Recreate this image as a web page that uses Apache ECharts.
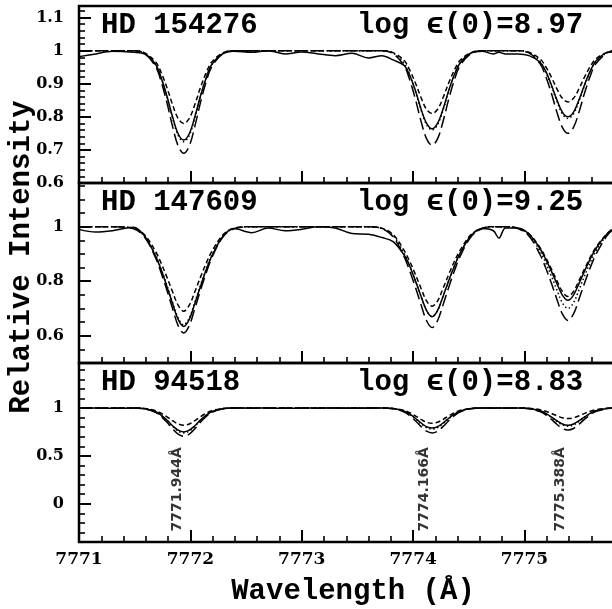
<!DOCTYPE html>
<html>
<head>
<meta charset="utf-8">
<script src="https://cdn.jsdelivr.net/npm/echarts@6/dist/echarts.min.js"></script>
<style>
  html, body { margin: 0; padding: 0; background: #fff; }
  #chart { width: 612px; height: 609px; }
</style>
</head>
<body>
<div id="chart"></div>
<script>
// wavelength grid (Angstrom) shared by every curve
const WAVE = [7771.0, 7771.15, 7771.3,
  7771.49, 7771.59, 7771.69, 7771.74, 7771.79, 7771.84, 7771.89, 7771.94, 7771.99, 7772.04, 7772.09, 7772.14, 7772.19, 7772.29, 7772.39,
  7772.55, 7772.7, 7772.85, 7773.0, 7773.15, 7773.3, 7773.45, 7773.6,
  7773.72, 7773.82, 7773.92, 7773.97, 7774.02, 7774.07, 7774.12, 7774.17, 7774.22, 7774.27, 7774.32, 7774.37, 7774.42, 7774.52, 7774.62,
  7774.72, 7774.77, 7774.83,
  7774.94, 7775.04, 7775.14, 7775.19, 7775.24, 7775.29, 7775.34, 7775.39, 7775.44, 7775.49, 7775.54, 7775.59, 7775.64, 7775.74, 7775.8];

// HD 154276
const HD154276_OBS = [0.982, 0.99, 0.998,
  0.995, 0.99, 0.957, 0.916, 0.862, 0.80, 0.749, 0.73, 0.749, 0.80, 0.862, 0.916, 0.957, 0.99, 0.998,
  0.995, 1.0, 0.99, 0.996, 0.99, 0.985, 0.992, 0.978,
  0.985, 0.972, 0.955, 0.925, 0.88, 0.825, 0.781, 0.764, 0.781, 0.825, 0.88, 0.927, 0.962, 0.993, 0.998,
  0.99, 0.995, 0.99,
  0.99, 0.985, 0.965, 0.938, 0.898, 0.852, 0.814, 0.80, 0.814, 0.852, 0.898, 0.938, 0.968, 0.994, 0.996];
const HD154276_SHORT = [1, 1, 1,
  1.0, 0.993, 0.965, 0.932, 0.888, 0.837, 0.795, 0.78, 0.795, 0.837, 0.888, 0.932, 0.965, 0.993, 1.0,
  1, 1, 1, 1, 1, 1, 1, 1,
  1.0, 0.994, 0.970, 0.941, 0.903, 0.859, 0.823, 0.81, 0.823, 0.859, 0.903, 0.941, 0.970, 0.994, 1.0,
  1, 1, 1,
  1.0, 0.995, 0.975, 0.952, 0.921, 0.885, 0.856, 0.845, 0.856, 0.885, 0.921, 0.952, 0.975, 0.995, 1.0];
const HD154276_DOT = [1, 1, 1,
  1.0, 0.992, 0.956, 0.915, 0.86, 0.797, 0.744, 0.725, 0.744, 0.797, 0.86, 0.915, 0.956, 0.992, 1.0,
  1, 1, 1, 1, 1, 1, 1, 1,
  1.0, 0.993, 0.962, 0.926, 0.878, 0.822, 0.777, 0.76, 0.777, 0.822, 0.878, 0.926, 0.962, 0.993, 1.0,
  1, 1, 1,
  1.0, 0.994, 0.967, 0.936, 0.895, 0.848, 0.809, 0.795, 0.809, 0.848, 0.895, 0.936, 0.967, 0.994, 1.0];
const HD154276_LONG = [1, 1, 1,
  1.0, 0.991, 0.950, 0.904, 0.842, 0.771, 0.712, 0.69, 0.712, 0.771, 0.842, 0.904, 0.950, 0.991, 1.0,
  1, 1, 1, 1, 1, 1, 1, 1,
  1.0, 0.991, 0.954, 0.911, 0.854, 0.788, 0.734, 0.714, 0.734, 0.788, 0.854, 0.911, 0.954, 0.991, 1.0,
  1, 1, 1,
  1.0, 0.993, 0.96, 0.923, 0.873, 0.815, 0.768, 0.75, 0.768, 0.815, 0.873, 0.923, 0.96, 0.993, 1.0];

// HD 147609
const HD147609_OBS = [0.99, 0.98, 0.985,
  0.998, 0.965, 0.89, 0.839, 0.78, 0.718, 0.66, 0.634, 0.66, 0.718, 0.78, 0.839, 0.89, 0.963, 0.993,
  0.978, 0.995, 0.985, 0.99, 1.0, 0.995, 0.975, 0.972,
  0.96, 0.945, 0.895, 0.855, 0.802, 0.746, 0.693, 0.67, 0.693, 0.746, 0.802, 0.855, 0.901, 0.967, 0.993,
  0.985, 0.958, 0.995,
  0.995, 0.973, 0.919, 0.881, 0.838, 0.792, 0.749, 0.73, 0.749, 0.792, 0.838, 0.881, 0.919, 0.973, 0.99];
const HD147609_SHORT = [1, 1, 1,
  0.994, 0.969, 0.907, 0.864, 0.814, 0.761, 0.712, 0.69, 0.712, 0.761, 0.814, 0.864, 0.907, 0.969, 0.994,
  1, 1, 1, 1, 1, 1, 1, 1,
  0.994, 0.971, 0.912, 0.872, 0.825, 0.775, 0.728, 0.708, 0.728, 0.775, 0.825, 0.872, 0.912, 0.971, 0.994,
  1, 1, 1,
  0.995, 0.974, 0.923, 0.887, 0.846, 0.803, 0.762, 0.744, 0.762, 0.803, 0.846, 0.887, 0.923, 0.974, 0.995];
const HD147609_DOT = [1, 1, 1,
  0.993, 0.964, 0.892, 0.842, 0.784, 0.723, 0.665, 0.64, 0.665, 0.723, 0.784, 0.842, 0.892, 0.964, 0.993,
  1, 1, 1, 1, 1, 1, 1, 1,
  0.993, 0.967, 0.901, 0.855, 0.802, 0.746, 0.693, 0.67, 0.693, 0.746, 0.802, 0.855, 0.901, 0.967, 0.993,
  1, 1, 1,
  0.994, 0.97, 0.91, 0.868, 0.82, 0.769, 0.721, 0.70, 0.721, 0.769, 0.82, 0.868, 0.91, 0.97, 0.994];
const HD147609_LONG = [1, 1, 1,
  0.992, 0.961, 0.883, 0.828, 0.766, 0.7, 0.637, 0.61, 0.637, 0.7, 0.766, 0.828, 0.883, 0.961, 0.992,
  1, 1, 1, 1, 1, 1, 1, 1,
  0.993, 0.963, 0.889, 0.837, 0.778, 0.715, 0.656, 0.63, 0.656, 0.715, 0.778, 0.837, 0.889, 0.963, 0.993,
  1, 1, 1,
  0.993, 0.966, 0.897, 0.849, 0.794, 0.735, 0.68, 0.656, 0.68, 0.735, 0.794, 0.849, 0.897, 0.966, 0.993];

// HD 94518
const HD94518_OBS = [0.998, 1.0, 0.997,
  1.0, 0.993, 0.96, 0.923, 0.873, 0.815, 0.768, 0.75, 0.768, 0.815, 0.873, 0.923, 0.96, 0.993, 1.0,
  0.998, 1.0, 0.996, 1.0, 0.998, 1.0, 0.997, 1.0,
  1.0, 0.994, 0.966, 0.935, 0.893, 0.845, 0.805, 0.79, 0.805, 0.845, 0.893, 0.935, 0.966, 0.994, 1.0,
  0.998, 1.0, 0.998,
  1.0, 0.995, 0.971, 0.944, 0.908, 0.867, 0.833, 0.82, 0.833, 0.867, 0.908, 0.944, 0.971, 0.995, 1.0];
const HD94518_SHORT = [1, 1, 1,
  1.0, 0.995, 0.971, 0.944, 0.908, 0.867, 0.833, 0.82, 0.833, 0.867, 0.908, 0.944, 0.971, 0.995, 1.0,
  1, 1, 1, 1, 1, 1, 1, 1,
  1.0, 0.995, 0.974, 0.95, 0.918, 0.882, 0.851, 0.84, 0.851, 0.882, 0.918, 0.95, 0.974, 0.995, 1.0,
  1, 1, 1,
  1.0, 0.997, 0.982, 0.966, 0.944, 0.919, 0.898, 0.89, 0.898, 0.919, 0.944, 0.966, 0.982, 0.997, 1.0];
const HD94518_DOT = [1, 1, 1,
  1.0, 0.992, 0.958, 0.919, 0.867, 0.808, 0.758, 0.74, 0.758, 0.808, 0.867, 0.919, 0.958, 0.992, 1.0,
  1, 1, 1, 1, 1, 1, 1, 1,
  1.0, 0.993, 0.965, 0.932, 0.888, 0.837, 0.795, 0.78, 0.795, 0.837, 0.888, 0.932, 0.965, 0.993, 1.0,
  1, 1, 1,
  1.0, 0.994, 0.97, 0.941, 0.903, 0.859, 0.823, 0.81, 0.823, 0.859, 0.903, 0.941, 0.97, 0.994, 1.0];
const HD94518_LONG = [1, 1, 1,
  1.0, 0.991, 0.953, 0.909, 0.85, 0.782, 0.726, 0.705, 0.726, 0.782, 0.85, 0.909, 0.953, 0.991, 1.0,
  1, 1, 1, 1, 1, 1, 1, 1,
  1.0, 0.992, 0.958, 0.919, 0.867, 0.808, 0.758, 0.74, 0.758, 0.808, 0.867, 0.919, 0.958, 0.992, 1.0,
  1, 1, 1,
  1.0, 0.993, 0.963, 0.929, 0.883, 0.83, 0.786, 0.77, 0.786, 0.83, 0.883, 0.929, 0.963, 0.993, 1.0];

const STAR_NAMES = ["HD 154276", "HD 147609", "HD 94518"];
const ABUNDANCES = ["log \u03F5(0)=8.97", "log \u03F5(0)=9.25", "log \u03F5(0)=8.83"];
const PANEL_CURVES = [
  [HD154276_OBS, HD154276_SHORT, HD154276_DOT, HD154276_LONG],
  [HD147609_OBS, HD147609_SHORT, HD147609_DOT, HD147609_LONG],
  [HD94518_OBS, HD94518_SHORT, HD94518_DOT, HD94518_LONG],
];

const X_MIN = 7771;
const X_MAX = 7775.8;
const X_TICKS = [7771, 7772, 7773, 7774, 7775];
const Y_MIN = [0.6, 0.5, -0.4];
const Y_MAX = [1.135, 1.16, 1.47];
const Y_TICKS = [[0.6, 0.7, 0.8, 0.9, 1, 1.1], [0.6, 0.8, 1], [0, 0.5, 1]];
const Y_MINOR_STEP = [0.02, 0.05, 0.1];

const LINE_WAVES = [7771.944, 7774.166, 7775.388];
const LINE_LABELS = ["7771.944\u00C5", "7774.166\u00C5", "7775.388\u00C5"];

// layout
const PLOT_LEFT = 79;
const PLOT_WIDTH = 534.6;
const PANEL_TOP = [6, 183, 363];
const PANEL_HEIGHT = [177, 180, 179];
const LINE_LABEL_Y = -0.29;

const DASHES = ["solid", [5, 3], [1.5, 2.5], [12, 5]];
const TITLE_FONT = '"Liberation Mono", "DejaVu Sans Mono", monospace';
const TICK_FONT = '"DejaVu Serif", serif';

function ticksBetween(lo, hi, step) {
  const out = [];
  for (let k = Math.ceil(lo / step - 1e-6); k * step <= hi + 1e-6; k++) {
    out.push(+(k * step).toFixed(4));
  }
  return out;
}

const chart = echarts.init(document.getElementById("chart"), null, { renderer: "canvas" });

const grids = [];
const xAxes = [];
const yAxes = [];
const series = [];
const texts = [];

for (let p = 0; p < 3; p++) {
  const last = p === 2;
  grids.push({
    left: PLOT_LEFT,
    width: PLOT_WIDTH,
    top: PANEL_TOP[p],
    height: PANEL_HEIGHT[p],
    show: true,
    borderColor: "#000",
    borderWidth: 2.5,
    backgroundColor: "transparent",
    containLabel: false,
    outerBoundsMode: "none",
  });

  // major x axis (with labels on the bottom panel)
  xAxes.push({
    gridIndex: p,
    type: "value",
    position: "bottom",
    min: X_MIN,
    max: X_MAX,
    axisLine: { show: false, onZero: false },
    splitLine: { show: false },
    axisTick: {
      show: true, inside: true, length: 12, customValues: X_TICKS,
      lineStyle: { color: "#000", width: 2 },
    },
    axisLabel: {
      show: last, customValues: X_TICKS, margin: 9,
      formatter: (v) => String(v),
      color: "#000", fontFamily: TICK_FONT, fontWeight: "bold", fontSize: 17,
    },
  });
  // minor x ticks
  xAxes.push({
    gridIndex: p,
    type: "value",
    position: "bottom",
    min: X_MIN,
    max: X_MAX,
    axisLine: { show: false, onZero: false },
    splitLine: { show: false },
    axisLabel: { show: false },
    axisTick: {
      show: true, inside: true, length: 6, customValues: ticksBetween(X_MIN, X_MAX, 0.2),
      lineStyle: { color: "#000", width: 1.6 },
    },
  });

  yAxes.push({
    gridIndex: p,
    type: "value",
    position: "left",
    min: Y_MIN[p],
    max: Y_MAX[p],
    axisLine: { show: false, onZero: false },
    splitLine: { show: false },
    axisTick: {
      show: true, inside: true, length: 12, customValues: Y_TICKS[p],
      lineStyle: { color: "#000", width: 2 },
    },
    axisLabel: {
      show: true, customValues: Y_TICKS[p], margin: 15,
      formatter: (v) => String(v),
      color: "#000", fontFamily: TICK_FONT, fontWeight: "bold", fontSize: 16,
    },
  });
  yAxes.push({
    gridIndex: p,
    type: "value",
    position: "left",
    min: Y_MIN[p],
    max: Y_MAX[p],
    axisLine: { show: false, onZero: false },
    splitLine: { show: false },
    axisLabel: { show: false },
    axisTick: {
      show: true, inside: true, length: 6,
      customValues: ticksBetween(Y_MIN[p], Y_MAX[p], Y_MINOR_STEP[p]),
      lineStyle: { color: "#000", width: 1.6 },
    },
  });

  PANEL_CURVES[p].forEach((curve, c) => {
    series.push({
      type: "line",
      xAxisIndex: 2 * p,
      yAxisIndex: 2 * p,
      data: WAVE.map((w, i) => [w, curve[i]]),
      showSymbol: false,
      symbol: "none",
      smooth: 0.35,
      clip: true,
      lineStyle: { color: "#000", width: 1.5, type: DASHES[c] },
      z: 3,
    });
  });

  texts.push({
    type: "text", x: 101, y: PANEL_TOP[p] + 20,
    style: {
      text: STAR_NAMES[p], fill: "#000", fontFamily: TITLE_FONT,
      fontWeight: "bold", fontSize: 29, align: "left", verticalAlign: "middle",
    },
  });
  texts.push({
    type: "text", x: 357, y: PANEL_TOP[p] + 20,
    style: {
      text: ABUNDANCES[p], fill: "#000", fontFamily: TITLE_FONT,
      fontWeight: "bold", fontSize: 29, align: "left", verticalAlign: "middle",
    },
  });
}

// vertical labels marking the O I triplet lines in the bottom panel
series.push({
  type: "scatter",
  xAxisIndex: 4,
  yAxisIndex: 4,
  symbolSize: 0,
  data: LINE_WAVES.map((w, i) => ({ value: [w, LINE_LABEL_Y], name: LINE_LABELS[i] })),
  label: {
    show: true,
    formatter: "{b}",
    position: [0, 0],
    rotate: 90,
    align: "left",
    verticalAlign: "bottom",
    color: "#000",
    fontFamily: '"DejaVu Sans", sans-serif',
    fontWeight: "bold",
    fontSize: 14,
  },
  z: 4,
});

texts.push({
  type: "text", x: 22, y: 257, rotation: Math.PI / 2,
  style: {
    text: "Relative Intensity", fill: "#000", fontFamily: TITLE_FONT,
    fontWeight: "bold", fontSize: 29, align: "center", verticalAlign: "middle",
  },
});
texts.push({
  type: "text", x: 353, y: 592,
  style: {
    text: "Wavelength (\u00C5)", fill: "#000", fontFamily: TITLE_FONT,
    fontWeight: "bold", fontSize: 29, align: "center", verticalAlign: "middle",
  },
});

chart.setOption({
  animation: false,
  backgroundColor: "#fff",
  grid: grids,
  xAxis: xAxes,
  yAxis: yAxes,
  series: series,
  graphic: { elements: texts },
});
</script>
</body>
</html>
